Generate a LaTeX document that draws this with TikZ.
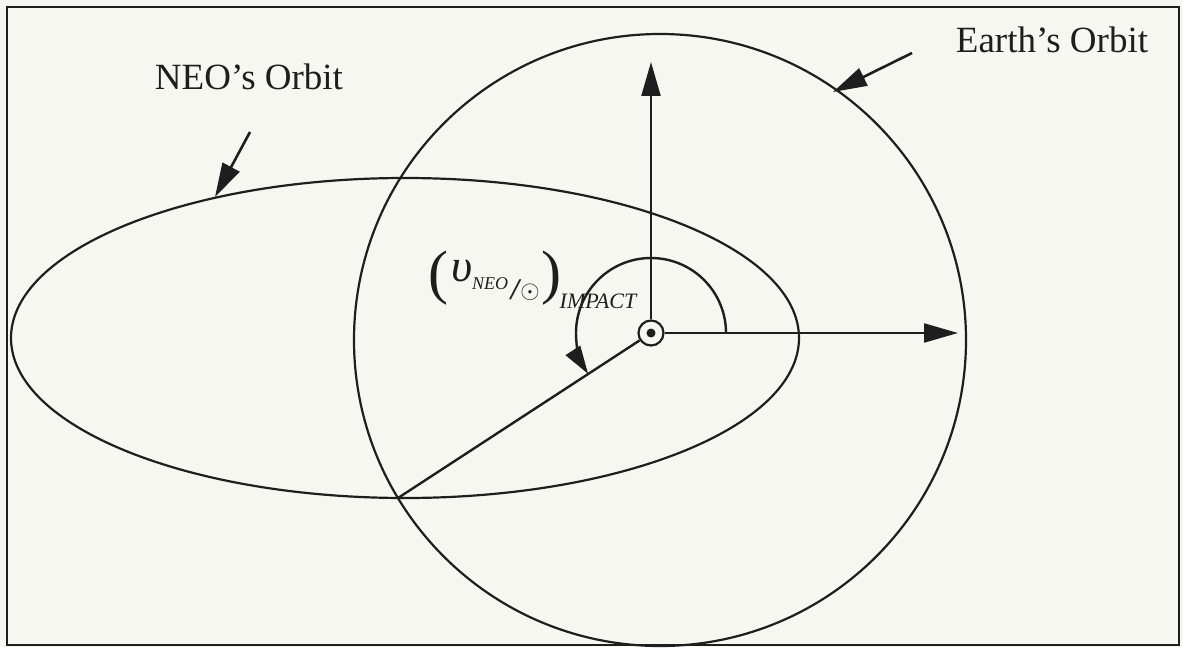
\documentclass[tikz,border=0pt]{standalone}
\usepackage{fontspec}
\setmainfont{Liberation Serif}
\usetikzlibrary{arrows.meta,positioning}
\definecolor{paper}{RGB}{247,247,242}
\definecolor{ink}{RGB}{30,30,30}

\begin{document}
\begin{tikzpicture}[
  x=1pt, y=-1pt,
  >={Triangle[length=34pt,width=19pt]},
  frame/.style={draw=ink, line width=2.6pt},
  orbit/.style={draw=ink, line width=2.2pt},
  arrow/.style={->, draw=ink, fill=ink, line width=2.2pt},
  pointer/.style={->, draw=ink, fill=ink, line width=2.6pt},
  sweep/.style={-{Triangle[length=28pt,width=17pt]}, draw=ink, fill=none, line width=2.4pt},
  caption/.style={font=\fontsize{37}{40}\selectfont, inner sep=0pt, text=ink},
  sym/.style={inner sep=0pt, text=ink, anchor=base},
  sunsym/.style={circle, draw=ink, line width=2.2pt, minimum size=25pt, inner sep=0pt, fill=paper}
]
\fill[paper] (0,0) rectangle (1183,647);
\draw[frame] (7,7) rectangle (1179,645);

\draw[orbit] (405,338) ellipse [x radius=394pt, y radius=160pt];
\draw[orbit] (660,340) circle [radius=306pt];

\node[sunsym] (sun) at (651,333) {};
\fill[ink] (sun.center) circle [radius=4.5pt];

\coordinate (hit) at (398,498);
\coordinate (ytip) at (651,62);
\coordinate (xtip) at (958,333);
\draw[orbit, line width=2.4pt] (sun) -- (hit);
\draw[arrow] (sun) -- (ytip);
\draw[arrow] (sun) -- (xtip);
\draw[sweep] (sun.center) ++(75pt,0pt) arc [start angle=0, end angle=213, radius=75pt];

\node[caption] (neolabel) at (249,77) {NEO’s Orbit};
\node[caption] (earthlabel) at (1052,40) {Earth’s Orbit};
\coordinate (neotail) at (250,132);
\coordinate (neotip) at (215,197);
\coordinate (earthtail) at (912,53);
\coordinate (earthtip) at (833,92);
\draw[pointer] (neotail) -- (neotip);
\draw[pointer] (earthtail) -- (earthtip);

\node[sym, font=\fontsize{60}{60}\selectfont] (lpar) at (438,292) {(};
\node[sym, font=\fontsize{46}{46}\selectfont\itshape] (ups) at (462,281) {υ};
\node[sym, font=\fontsize{18}{18}\selectfont\itshape] (neo) at (490,289) {NEO};
\node[sym, font=\fontsize{30}{30}\selectfont\bfseries\itshape] (slash) at (515,299) {/};
\node[sym, font=\fontsize{26}{26}\selectfont] (odot) at (530,298) {$\odot$};
\node[sym, font=\fontsize{60}{60}\selectfont] (rpar) at (551,292) {)};
\node[sym, font=\fontsize{22}{22}\selectfont\itshape] (impact) at (598,308) {IMPACT};
\end{tikzpicture}
\end{document}
